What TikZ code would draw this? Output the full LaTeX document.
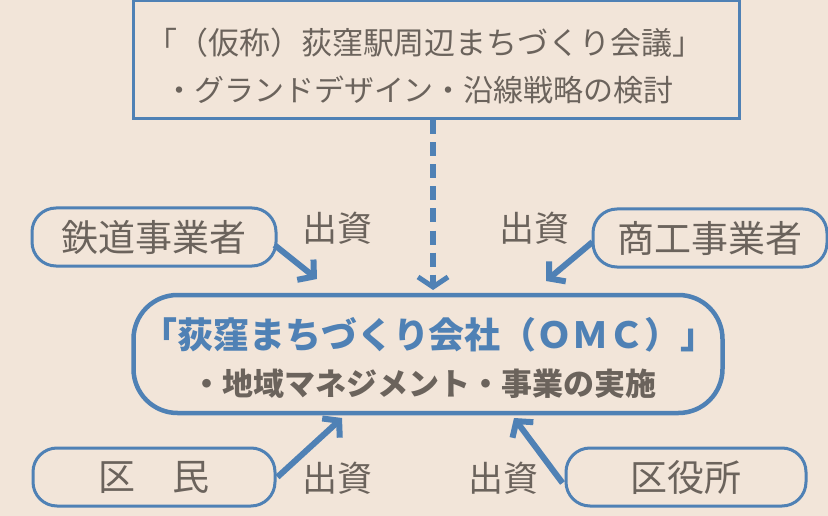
\documentclass[tikz,border=0pt]{standalone}
\usepackage{fontspec}
\setmainfont{Noto Sans CJK JP}
\usetikzlibrary{arrows.meta,calc}
\definecolor{bg}{HTML}{F2E5D9}
\definecolor{myblue}{HTML}{4F81B5}
\definecolor{mygray}{HTML}{6B635C}
\tikzset{
  x=1pt,y=-1pt,
  txt/.style={text=mygray,inner sep=0pt},
  smallbox/.style={draw=myblue,line width=3pt,rounded corners=24pt,minimum height=58pt,text=mygray,font=\fontsize{37}{40}\selectfont,inner sep=0pt},
  fund/.style={txt,font=\fontsize{35}{38}\selectfont},
  fundarrow/.style={draw=myblue,line width=6pt,-{Straight Barb[length=11pt,width=26pt,line width=6pt]},line join=miter},
}
\begin{document}
\begin{tikzpicture}
\fill[bg] (0,0) rectangle (828,516);
\useasboundingbox (0,0) rectangle (828,516);
% top box
\node[draw=myblue,line width=3pt,fill=bg,minimum width=606pt,minimum height=118pt,inner sep=0pt] (top) at (436,60) {};
\node[txt,font=\fontsize{31}{34}\selectfont] (t1) at (425,43) {「（仮称）荻窪駅周辺まちづくり会議」};
\node[txt,font=\fontsize{30}{33}\selectfont] (t2) at (419,90) {・グランドデザイン・沿線戦略の検討};
% main box
\node[draw=myblue,line width=4.5pt,rounded corners=44pt,minimum width=589pt,minimum height=118pt,inner sep=0pt] (omc) at (428,354) {};
\node[text=myblue,inner sep=0pt,font=\fontsize{36}{40}\selectfont\bfseries] (m1) at (429,335) {「荻窪まちづくり会社（ＯＭＣ）」};
\node[txt,font=\fontsize{31}{34}\selectfont\bfseries] (m2) at (424,384) {・地域マネジメント・事業の実施};
% dashed arrow
\draw[myblue,line width=6pt,dash pattern=on 14pt off 8pt,-{Straight Barb[length=10pt,width=30pt,line width=5pt]}] (top.south -| 433,0) -- (433,290) coordinate (dtip);
% small boxes
\node[smallbox,minimum width=244pt] (rail) at (154,237) {鉄道事業者};
\node[smallbox,minimum width=234pt] (shoko) at (710,238) {商工事業者};
\node[smallbox,minimum width=242pt] (kumin) at (154,477) {区　民};
\node[smallbox,minimum width=240pt] (kuyaku) at (686,477) {区役所};
% labels
\node[fund] (f1) at (337,228) {出資};
\node[fund] (f2) at (534,228) {出資};
\node[fund] (f3) at (337,478) {出資};
\node[fund] (f4) at (503,478) {出資};
% arrows
\coordinate (a1) at (317,279);
\coordinate (a2) at (546,281);
\coordinate (a3) at (342,418);
\coordinate (a4) at (514,418);
\draw[fundarrow] ($(rail.east)+(-3,8)$) -- (a1);
\draw[fundarrow] ($(shoko.west)+(1,4)$) -- (a2);
\draw[fundarrow] ($(kumin.east)+(1,0)$) -- (a3);
\draw[fundarrow] ($(kuyaku.west)+(-2,6)$) -- (a4);
\end{tikzpicture}
\end{document}
